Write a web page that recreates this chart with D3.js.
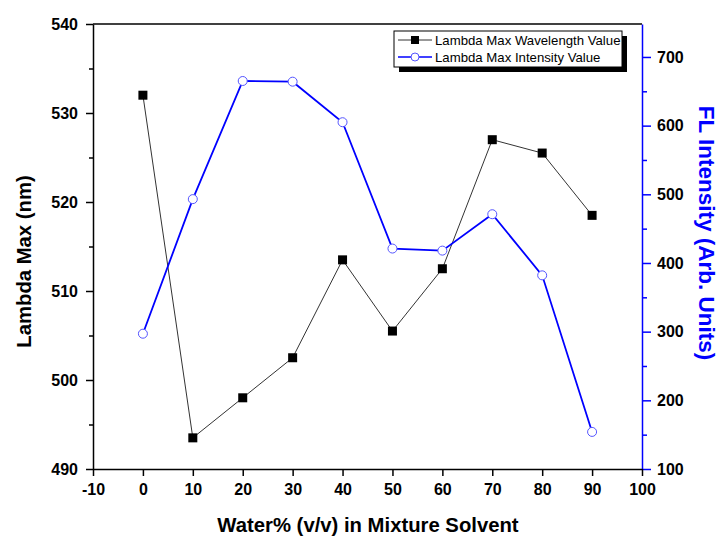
<!DOCTYPE html>
<html><head><meta charset="utf-8">
<script src="https://cdn.jsdelivr.net/npm/d3@7"></script>
<style>body{margin:0;background:#fff}svg{display:block}</style>
</head><body>
<script>
const water = [0, 10, 20, 30, 40, 50, 60, 70, 80, 90];
const wavelength = [532, 493.5, 498, 502.5, 513.5, 505.5, 512.5, 527, 525.5, 518.5];
const intensity = [297, 493, 665, 664, 605, 421, 418, 471, 382, 154];
const xTicks = [-10, 0, 10, 20, 30, 40, 50, 60, 70, 80, 90, 100];
const yLeftTicks = [490, 500, 510, 520, 530, 540];
const yRightTicks = [100, 200, 300, 400, 500, 600, 700];
const seriesNames = ["Lambda Max Wavelength Value", "Lambda Max Intensity Value"];

const W = 718, H = 536;
const L = 93, R = 642, T = 24, B = 469;
const svg = d3.select("body").append("svg").attr("width", W).attr("height", H);
const font = "Liberation Sans, Arial, sans-serif";
const fmt = d => String(d);

const x = d3.scaleLinear().domain([-10, 100]).range([L, R]);
const yL = d3.scaleLinear().domain([490, 540]).range([B, T]);
const yR = d3.scaleLinear().domain([100, 748]).range([B, T]);

const minorL = d3.range(495, 540, 10);
const minorR = d3.range(150, 748, 100);

// top border
svg.append("line").attr("x1", L).attr("x2", R).attr("y1", T).attr("y2", T)
  .attr("stroke", "#000").attr("stroke-width", 1.5);

// right axis
const gr = svg.append("g").attr("transform", `translate(${R},0)`)
  .call(d3.axisRight(yR).tickValues(yRightTicks).tickFormat(fmt).tickSize(9).tickSizeOuter(0).tickPadding(6));
gr.select(".domain").attr("stroke", "#0000ff").attr("stroke-width", 1.5);
gr.selectAll(".tick line").attr("stroke", "#0000ff").attr("stroke-width", 1.5);
gr.selectAll("text").attr("font-family", font).attr("font-weight", "bold").attr("font-size", 16).attr("fill", "#000");
svg.append("g").attr("transform", `translate(${R},0)`)
  .call(d3.axisRight(yR).tickValues(minorR).tickSize(5).tickFormat(""))
  .call(g => { g.select(".domain").remove(); g.selectAll("line").attr("stroke", "#0000ff").attr("stroke-width", 1.5); });

// bottom axis
const gx = svg.append("g").attr("transform", `translate(0,${B})`)
  .call(d3.axisBottom(x).tickValues(xTicks).tickFormat(fmt).tickSize(7).tickSizeOuter(0).tickPadding(8));
gx.select(".domain").attr("stroke", "#000").attr("stroke-width", 1.5);
gx.selectAll(".tick line").attr("stroke", "#000").attr("stroke-width", 1.5);
gx.selectAll("text").attr("font-family", font).attr("font-weight", "bold").attr("font-size", 16).attr("fill", "#000");

// left axis
const gl = svg.append("g").attr("transform", `translate(${L},0)`)
  .call(d3.axisLeft(yL).tickValues(yLeftTicks).tickFormat(fmt).tickSize(7).tickSizeOuter(0).tickPadding(8));
gl.select(".domain").attr("stroke", "#000").attr("stroke-width", 1.5);
gl.selectAll(".tick line").attr("stroke", "#000").attr("stroke-width", 1.5);
gl.selectAll("text").attr("font-family", font).attr("font-weight", "bold").attr("font-size", 16).attr("fill", "#000");
svg.append("g").attr("transform", `translate(${L},0)`)
  .call(d3.axisLeft(yL).tickValues(minorL).tickSize(4).tickFormat(""))
  .call(g => { g.select(".domain").remove(); g.selectAll("line").attr("stroke", "#000").attr("stroke-width", 1.5); });

// titles
svg.append("text").attr("x", 368).attr("y", 532).attr("text-anchor", "middle")
  .attr("font-family", font).attr("font-weight", "bold").attr("font-size", 20.3).attr("fill", "#000")
  .text("Water% (v/v) in Mixture Solvent");
svg.append("text").attr("transform", `translate(31,${(T + B) / 2 + 15}) rotate(-90)`).attr("text-anchor", "middle")
  .attr("font-family", font).attr("font-weight", "bold").attr("font-size", 20.3).attr("fill", "#000")
  .text("Lambda Max (nm)");
svg.append("text").attr("transform", `translate(699,233) rotate(90)`).attr("text-anchor", "middle")
  .attr("font-family", font).attr("font-weight", "bold").attr("font-size", 22.5).attr("fill", "#0000ff")
  .text("FL Intensity (Arb. Units)");

// series
const lineL = d3.line().x((d, i) => x(water[i])).y(d => yL(d));
const lineR = d3.line().x((d, i) => x(water[i])).y(d => yR(d));
svg.append("path").attr("d", lineL(wavelength)).attr("fill", "none").attr("stroke", "#333").attr("stroke-width", 1);
svg.append("path").attr("d", lineR(intensity)).attr("fill", "none").attr("stroke", "#0000ff").attr("stroke-width", 1.8);
svg.selectAll(".sq").data(wavelength).enter().append("rect")
  .attr("x", (d, i) => x(water[i]) - 4.5).attr("y", d => yL(d) - 4.5)
  .attr("width", 9).attr("height", 9).attr("fill", "#000");
svg.selectAll(".ci").data(intensity).enter().append("circle")
  .attr("cx", (d, i) => x(water[i])).attr("cy", d => yR(d)).attr("r", 4.5)
  .attr("fill", "#fff").attr("stroke", "#5555ff").attr("stroke-width", 1);

// legend
const lg = svg.append("g");
lg.append("rect").attr("x", 399).attr("y", 36).attr("width", 228).attr("height", 36).attr("fill", "#000");
lg.append("rect").attr("x", 394).attr("y", 31).attr("width", 228).attr("height", 36).attr("fill", "#fff")
  .attr("stroke", "#000").attr("stroke-width", 1);
const rows = [40, 57];
lg.append("line").attr("x1", 398).attr("x2", 432).attr("y1", rows[0]).attr("y2", rows[0]).attr("stroke", "#333");
lg.append("rect").attr("x", 411).attr("y", rows[0] - 4).attr("width", 8).attr("height", 8).attr("fill", "#000");
lg.append("line").attr("x1", 398).attr("x2", 432).attr("y1", rows[1]).attr("y2", rows[1]).attr("stroke", "#0000ff").attr("stroke-width", 1.5);
lg.append("circle").attr("cx", 415).attr("cy", rows[1]).attr("r", 4).attr("fill", "#fff").attr("stroke", "#5555ff");
seriesNames.forEach((n, i) => {
  lg.append("text").attr("x", 435).attr("y", rows[i] + 4.5).attr("font-family", font)
    .attr("font-size", 13.2).attr("fill", "#000").text(n);
});
</script>
</body></html>
